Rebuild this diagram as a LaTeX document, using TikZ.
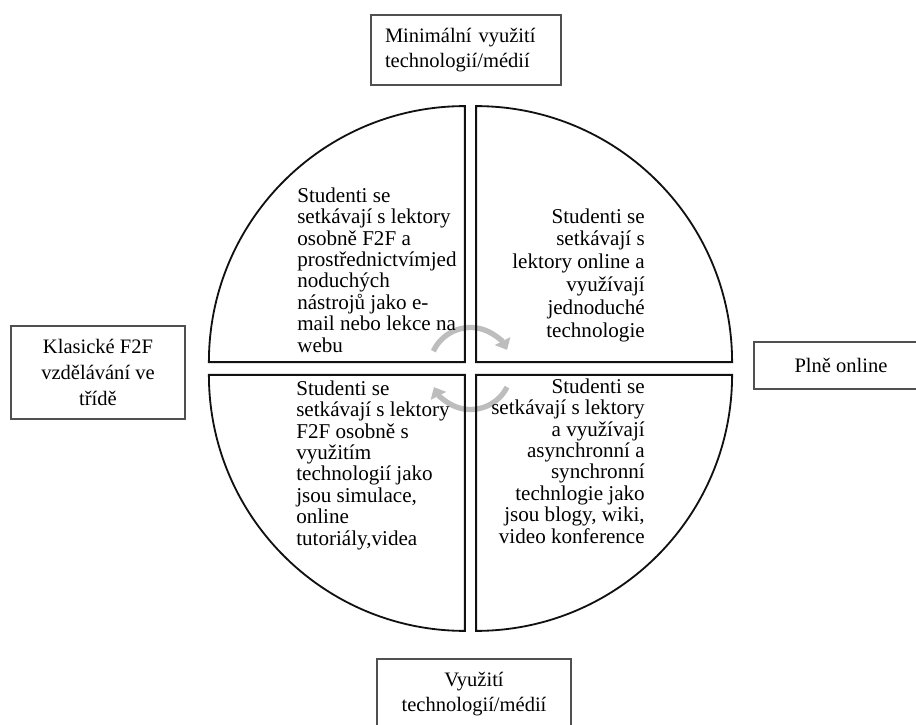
\documentclass[tikz,border=0pt]{standalone}
\usepackage{fontspec}
\setmainfont{Liberation Serif}
\usepackage{xcolor}
\usetikzlibrary{arrows.meta, positioning}
\definecolor{edge}{HTML}{111111}
\definecolor{boxline}{HTML}{505050}
\definecolor{cycle}{HTML}{BDBDBD}
\tikzset{
  quadrant/.style={draw=edge, line width=1.3pt, line join=miter},
  labelbox/.style={
    rectangle, draw=boxline, fill=white, line width=0.8pt,
    align=center, font={\fontsize{14.6}{18.3}\selectfont}
  },
  quadtext/.style={inner sep=0pt, font={\fontsize{15}{15.2}\selectfont}},
  lefttext/.style={quadtext, align=left, anchor=base west},
  righttext/.style={quadtext, align=right, anchor=base east},
  cyclearrow/.style={-{Triangle[length=7pt,width=12pt]}, line width=3.8pt, draw=cycle},
}
\begin{document}
\begin{tikzpicture}
  \clip (-11.7625,-8.8875) rectangle (11.1375,9.2125);

  \draw[cyclearrow] (155:1.025) arc[start angle=155, end angle=27, radius=1.025];
  \draw[cyclearrow] (-27:1.025) arc[start angle=-27, end angle=-153, radius=1.025];

  \draw[quadrant] (-0.14,0.16) -- ++(-6.4,0) arc[start angle=180, end angle=90, radius=6.4] -- cycle;
  \draw[quadrant] (0.14,0.16) -- ++(6.4,0) arc[start angle=0, end angle=90, radius=6.4] -- cycle;
  \draw[quadrant] (-0.14,-0.16) -- ++(-6.4,0) arc[start angle=180, end angle=270, radius=6.4] -- cycle;
  \draw[quadrant] (0.14,-0.16) -- ++(6.4,0) arc[start angle=0, end angle=-90, radius=6.4] -- cycle;

  % base anchor sits on the last line
  \node[lefttext] (f2fsimple) at (-4.3375,0.4125)
    {Studenti se\\setkávají s lektory\\osobně F2F a\\prostřednictvímjed\\noduchých\\nástrojů jako e-\\mail nebo lekce na\\webu};
  \node[righttext, font={\fontsize{15}{16.2}\selectfont}] (onlinesimple) at (4.3625,0.7875)
    {Studenti se\\setkávají s\\lektory online a\\využívají\\jednoduché\\technologie};
  \node[lefttext] (f2ftech) at (-4.3625,-4.4125)
    {Studenti se\\setkávají s lektory\\F2F osobně s\\využitím\\technologií jako\\jsou simulace,\\online\\tutoriály,videa};
  \node[righttext] (onlinetech) at (4.3625,-4.3625)
    {Studenti se\\setkávají s lektory\\a využívají\\asynchronní a\\synchronní\\technlogie jako\\jsou blogy, wiki,\\video konference};

  \node[labelbox, minimum width=4.75cm, minimum height=1.75cm, text width=4.05cm, align=left] (minimal) at (-0.1125,7.9625)
    {Minimální využití\\technologií/médií};
  \node[labelbox, minimum width=4.35cm, minimum height=2.325cm] (classic) at (-9.3125,-0.1)
    {Klasické F2F\\vzdělávání ve\\třídě};
  \node[labelbox, minimum width=4.35cm, minimum height=1.175cm] (fullonline) at (9.2625,0.075)
    {Plně online};
  \node[labelbox, minimum width=4.85cm, minimum height=1.75cm] (usage) at (0.0875,-8.1375)
    {Využití\\technologií/médií};
\end{tikzpicture}
\end{document}
